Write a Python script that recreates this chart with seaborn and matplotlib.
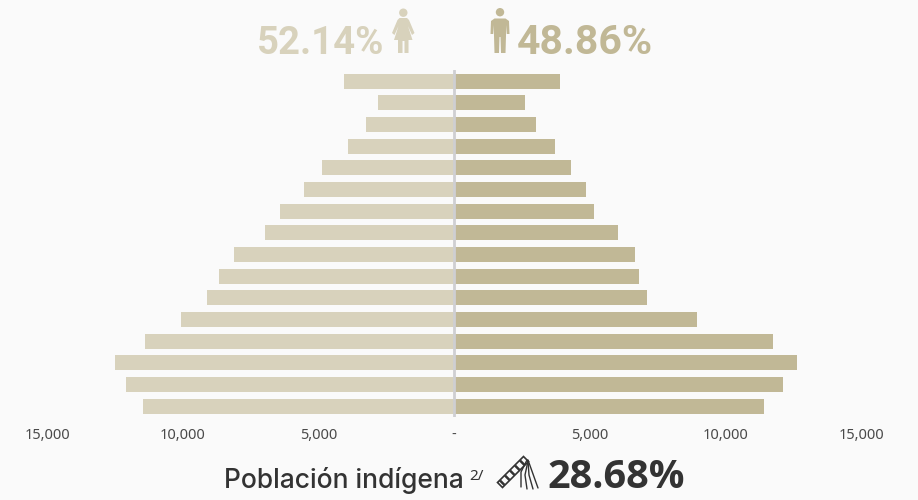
from matplotlib import pyplot as plt
from matplotlib.patches import Circle, Polygon
import pandas as pd
import seaborn as sns

# grupos de edad, de arriba hacia abajo
groups = list(range(16))
mujeres = [4050, 2790, 3240, 3900, 4860, 5520, 6410, 6960, 8110, 8660, 9100, 10060, 11390, 12500, 12090, 11460]
hombres = [3890, 2600, 3030, 3740, 4330, 4850, 5170, 6030, 6680, 6810, 7120, 8950, 11750, 12640, 12120, 11420]
ticks = [-15000, -10000, -5000, 0, 5000, 10000, 15000]
tick_labels = ['15,000', '10,000', '5,000', '-', '5,000', '10,000', '15,000']

BG = '#fafafa'
C_M = '#d8d2bc'
C_H = '#c1b896'
DARK = '#333333'
W, H = 918, 500

df = pd.DataFrame({'grupo': groups, 'mujeres': [-v for v in mujeres], 'hombres': hombres})

sns.set_style('white')
plt.rcParams['font.family'] = ['Roboto', 'DejaVu Sans']

f = plt.figure(figsize=(W / 100, H / 100), dpi=100, facecolor=BG)
ax = f.add_axes([47 / W, 1 - 417.2 / H, 814 / W, 347 / H], facecolor=BG)
sns.barplot(data=df, y='grupo', x='mujeres', orient='h', order=groups, color=C_M, saturation=1, width=0.69,
            linewidth=0, ax=ax)
sns.barplot(data=df, y='grupo', x='hombres', orient='h', order=groups, color=C_H, saturation=1, width=0.69,
            linewidth=0, ax=ax)
ax.set_xlim(-15000, 15000)
ax.set_ylim(15.5, -0.5)
ax.axvline(0, color='#cfcfd2', lw=2)
ax.set_xlabel('')
ax.set_ylabel('')
ax.set_yticks([])
ax.set_xticks(ticks)
ax.set_xticklabels(tick_labels, fontsize=10.5, color='#4a4a4a', family='Noto Sans')
ax.tick_params(axis='x', length=0, pad=7.5)
sns.despine(ax=ax, left=True, bottom=True)

# capa en pixeles para textos e iconos
ov = f.add_axes([0, 0, 1, 1], facecolor='none')
ov.set_xlim(0, W)
ov.set_ylim(H, 0)
ov.axis('off')

ov.text(384, 54, '52.14%', ha='right', va='baseline', fontsize=27.5, fontweight='bold', color=C_M, family='Roboto')
ov.text(517, 54, '48.86%', ha='left', va='baseline', fontsize=29.5, fontweight='bold', color=C_H, family='Roboto')

# mujer
ov.add_patch(Circle((403.3, 12.7), 4.2, color=C_M, lw=0))
ov.add_patch(Polygon([(399.5, 18), (407, 18), (409, 20), (414.5, 33), (412, 35), (408, 26), (412.5, 40),
                      (408.5, 40), (408.5, 53), (404.5, 53), (404.5, 41), (402.5, 41), (402.5, 53), (398, 53),
                      (398, 40), (394, 40), (398.5, 26), (394.5, 35), (392, 33), (397.5, 20)], color=C_M, lw=0))
# hombre
ov.add_patch(Circle((500, 12.2), 4.2, color=C_H, lw=0))
ov.add_patch(Polygon([(494.5, 18.5), (505.5, 18.5), (509, 21), (509.5, 34), (506.8, 34), (506.3, 25), (505.5, 53),
                      (501, 53), (500.5, 37), (499.5, 37), (499, 53), (494.5, 53), (493.7, 25), (493.2, 34),
                      (490.5, 34), (491, 21)], color=C_H, lw=0))

# texto inferior
ov.text(224, 488, 'Población indígena', ha='left', va='baseline', fontsize=19, fontweight='medium',
        color=DARK, family='Inter')
ov.text(469, 480, '2/', ha='left', va='baseline', fontsize=11, color=DARK, family='Noto Sans')
ov.text(547, 488, '28.68%', ha='left', va='baseline', fontsize=28.5, fontweight='bold', color=DARK,
        family='Open Sans')

# icono
ov.add_patch(Polygon([(497.5, 482.5), (502.5, 487.5), (528.5, 461.5), (523.5, 456.5)], facecolor=BG,
                     edgecolor=DARK, lw=1.2))
for cx, cy in [(503, 482), (508, 477), (513, 472), (518, 467), (523, 462)]:
    ov.plot([cx - 3, cx + 1.5], [cy - 1.5, cy + 3], color=DARK, lw=1.8, solid_capstyle='butt')
for pts in [[(527, 460), (521, 472), (521, 487)], [(528, 461), (525, 475), (527, 489)],
            [(528, 461), (529, 475), (533, 489)], [(528, 460), (533, 474), (538, 488)]]:
    ov.plot([p[0] for p in pts], [p[1] for p in pts], color=DARK, lw=1)

f.savefig('out.png', dpi=100, facecolor=BG)
